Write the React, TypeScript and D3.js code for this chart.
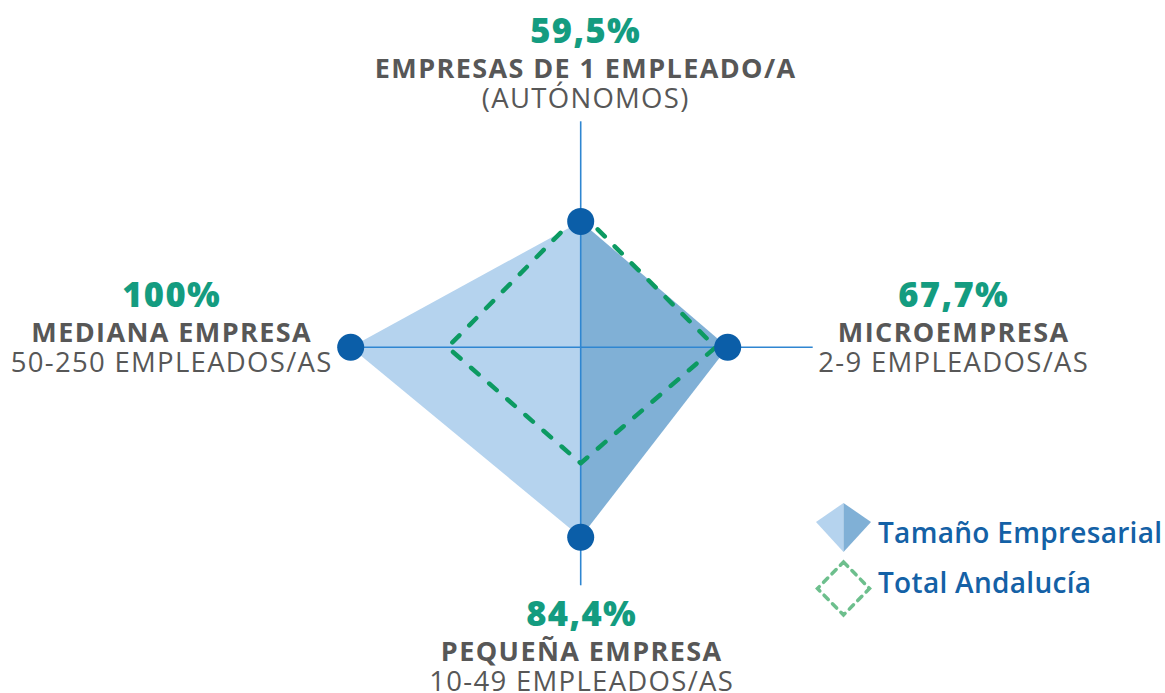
import React from 'react'
import * as d3 from 'd3'

// axes clockwise from the top
const categories = ['EMPRESAS DE 1 EMPLEADO/A', 'MICROEMPRESA', 'PEQUEÑA EMPRESA', 'MEDIANA EMPRESA']
const subtitles = ['(AUTÓNOMOS)', '2-9 EMPLEADOS/AS', '10-49 EMPLEADOS/AS', '50-250 EMPLEADOS/AS']
const tamanoValues = [59.5, 67.7, 84.4, 100]
const totalAndalucia = [63, 63, 55.6, 62.3]
const valueLabels = ['59,5%', '67,7%', '84,4%', '100%']
const legendLabels = ['Tamaño Empresarial', 'Total Andalucía']

const width = 1165
const height = 693
const cx = 580.7
const cy = 347.3

// label blocks: anchor x and baseline of the percentage line
const labelPos = [
  { x: 585, y: 43 },
  { x: 953, y: 307 },
  { x: 581, y: 626 },
  { x: 171, y: 307 }
]
// axis reach from the centre, per direction
const axisLen = [226, 232, 238, 232]

const FONT = '"Open Sans", Lato, sans-serif'
const GREEN_TXT = '#149c80'
const GRAY = '#575757'
const BLUE_TXT = '#1461a6'
const LIGHT = '#b5d3ee'
const DARK = '#80b0d6'
const DOT = '#0b5ea8'
const AXIS = '#2f86d1'
const DASH = '#0c9a62'

export default function App () {
  const r = d3.scaleLinear().domain([10.5, 100]).range([0, 230])
  const angle = (i: number) => (i * Math.PI) / 2
  const pt = (v: number, i: number): [number, number] => [
    cx + r(v) * Math.sin(angle(i)),
    cy - r(v) * Math.cos(angle(i))
  ]

  const pts = tamanoValues.map(pt)
  const poly = d3.line().curve(d3.curveLinearClosed)
  const rightHalf = poly([[cx, cy], pts[0], pts[1], pts[2]]) as string
  const leftHalf = poly([[cx, cy], pts[2], pts[3], pts[0]]) as string
  const totalPath = poly(totalAndalucia.map(pt)) as string

  // legend icons
  const lx = 843.5
  const k = [[lx, 503], [lx + 27.5, 522], [lx, 552], [lx - 27.5, 522]] as [number, number][]
  const kiteLeft = poly([k[0], k[2], k[3]]) as string
  const kiteRight = poly([k[0], k[1], k[2]]) as string
  const diamond = poly([[lx, 562], [lx + 26, 588.5], [lx, 615], [lx - 26, 588.5]]) as string

  return (
    <svg width={width} height={height} style={{ display: 'block', position: 'absolute', left: 0, top: 0 }}>
      <path d={leftHalf} fill={LIGHT} />
      <path d={rightHalf} fill={DARK} />
      {categories.map((c, i) => (
        <line key={c} x1={cx} y1={cy}
          x2={cx + axisLen[i] * Math.sin(angle(i))} y2={cy - axisLen[i] * Math.cos(angle(i))}
          stroke={AXIS} strokeWidth={1.6} />
      ))}
      <path d={totalPath} fill='none' stroke={DASH} strokeWidth={4.5}
        strokeDasharray='10 14' strokeLinecap='round' strokeLinejoin='round' />
      {pts.map((p, i) => (
        <circle key={i} cx={p[0]} cy={p[1]} r={13.5} fill={DOT} />
      ))}

      {categories.map((c, i) => (
        <g key={c} fontFamily={FONT} textAnchor='middle'>
          <text x={labelPos[i].x + 0.7} y={labelPos[i].y} fontSize={34.5} fontWeight={800}
            letterSpacing={1.4} fill={GREEN_TXT}>
            {valueLabels[i]}
          </text>
          <text x={labelPos[i].x + 0.7} y={labelPos[i].y + 35} fontSize={27} fontWeight={700}
            letterSpacing={1.4} fill={GRAY}>
            {c}
          </text>
          <text x={labelPos[i].x + 0.7} y={labelPos[i].y + 65} fontSize={27.5} fontWeight={400}
            letterSpacing={1.3} fill={GRAY}>
            {subtitles[i]}
          </text>
        </g>
      ))}

      <path d={kiteLeft} fill={LIGHT} />
      <path d={kiteRight} fill={DARK} />
      <path d={diamond} fill='none' stroke='#6dbf8d' strokeWidth={3.5}
        strokeDasharray='6 6' strokeLinecap='round' />
      {legendLabels.map((l, i) => (
        <text key={l} x={878} y={543 + i * 50} fontFamily={FONT} fontSize={28}
          fontWeight={600} letterSpacing={0.3} fill={BLUE_TXT}>{l}</text>
      ))}
    </svg>
  )
}
